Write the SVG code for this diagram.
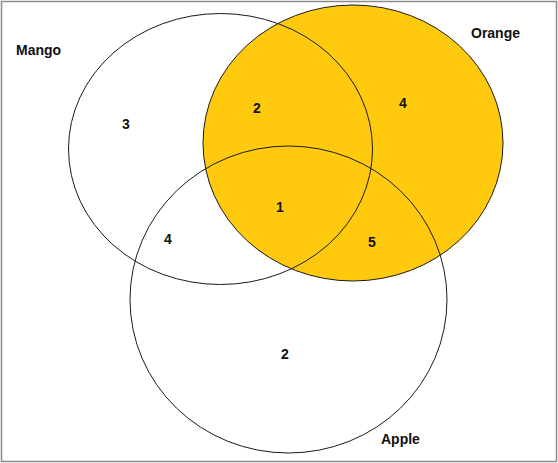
<svg xmlns="http://www.w3.org/2000/svg" width="558" height="463" viewBox="0 0 558 463">
<style>
.set{fill:none;stroke:#1a1a1a;stroke-width:1}
.lbl{font-family:"Liberation Sans",Arial,sans-serif;font-weight:bold;font-size:14px;fill:#111}
.num{font-family:"Liberation Sans",Arial,sans-serif;font-weight:bold;font-size:14px;fill:#111;text-anchor:middle}
</style>
<rect x="0" y="0" width="558" height="463" fill="#fff"/>
<rect x="1.5" y="1.5" width="555" height="460" fill="none" stroke="#8a8a8a" stroke-width="1.5"/>
<g id="orange-fill"><ellipse cx="353" cy="143" rx="150" ry="138" fill="#FFC90E"/></g>
<g id="mango"><ellipse class="set" cx="220.5" cy="149" rx="152" ry="135.5"/></g>
<g id="orange"><ellipse class="set" cx="353" cy="143" rx="150" ry="138"/></g>
<g id="apple"><ellipse class="set" cx="288.5" cy="299.5" rx="158.5" ry="153.5"/></g>
<g id="labels">
<text class="lbl" x="16" y="55">Mango</text>
<text class="lbl" x="471" y="38">Orange</text>
<text class="lbl" x="381" y="444">Apple</text>
</g>
<g id="counts">
<text class="num" x="126" y="129">3</text>
<text class="num" x="257" y="113">2</text>
<text class="num" x="403" y="108">4</text>
<text class="num" x="280" y="212">1</text>
<text class="num" x="168" y="244">4</text>
<text class="num" x="372" y="247">5</text>
<text class="num" x="285" y="359">2</text>
</g>
</svg>
